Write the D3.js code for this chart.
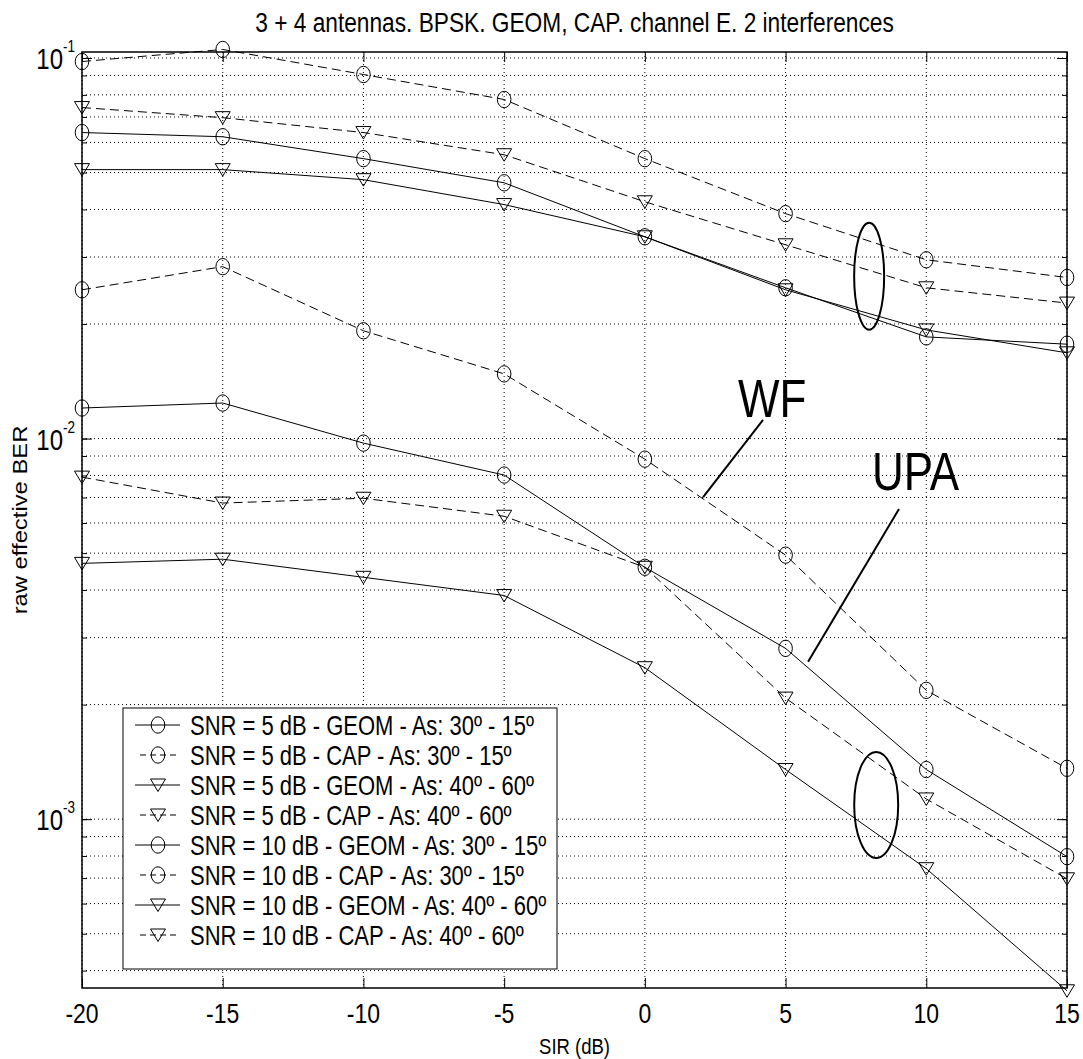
<!DOCTYPE html>
<meta charset="UTF-8">
<head>
<title>raw effective BER vs SIR</title>
<style>

body {
  margin: 0;
  background: #fff;
}

text {
  font-family: "Liberation Sans", Arial, Helvetica, sans-serif;
  fill: #000;
}

.grid line {
  stroke: #000;
  stroke-width: 1;
  stroke-dasharray: 1,3;
}

.curve {
  fill: none;
  stroke: #000;
  stroke-width: 1;
}

.mark {
  fill: none;
  stroke: #000;
  stroke-width: 1;
}

.annot {
  fill: none;
  stroke: #000;
  stroke-width: 2;
}

</style>
</head>
<body>

<!-- load the d3.js library -->
<script src="https://cdn.jsdelivr.net/npm/d3@7/dist/d3.min.js"></script>

<script>

// x values (SIR in dB)
var sir = [-20, -15, -10, -5, 0, 5, 10, 15];

// raw effective BER
var snr5Geom3015  = [0.0637, 0.0621, 0.0544, 0.0470, 0.0339, 0.0249, 0.0185, 0.0177];
var snr5Cap3015   = [0.0979, 0.1053, 0.0905, 0.0778, 0.0544, 0.0390, 0.0295, 0.0265];
var snr5Geom4060  = [0.0509, 0.0509, 0.0479, 0.0412, 0.0339, 0.0246, 0.0193, 0.0168];
var snr5Cap4060   = [0.0741, 0.0697, 0.0637, 0.0557, 0.0419, 0.0323, 0.0249, 0.0227];
var snr10Geom3015 = [0.01203, 0.0124, 0.00973, 0.00802, 0.00459, 0.00281, 0.00135, 0.000797];
var snr10Cap3015  = [0.0246, 0.0283, 0.0192, 0.01479, 0.00883, 0.00494, 0.00218, 0.00136];
var snr10Geom4060 = [0.0047, 0.00482, 0.00432, 0.00387, 0.0025, 0.00135, 0.000741, 0.000354];
var snr10Cap4060  = [0.00792, 0.00677, 0.00697, 0.00625, 0.00459, 0.00208, 0.00113, 0.000697];

var legendLabels = [
  "SNR = 5 dB - GEOM - As: 30º - 15º",
  "SNR = 5 dB - CAP - As: 30º - 15º",
  "SNR = 5 dB - GEOM - As: 40º - 60º",
  "SNR = 5 dB - CAP - As: 40º - 60º",
  "SNR = 10 dB - GEOM - As: 30º - 15º",
  "SNR = 10 dB - CAP - As: 30º - 15º",
  "SNR = 10 dB - GEOM - As: 40º - 60º",
  "SNR = 10 dB - CAP - As: 40º - 60º"
];

var xTicks = [-20, -15, -10, -5, 0, 5, 10, 15];
var yMajor = [1e-3, 1e-2, 1e-1];
var yMajorExp = ["-3", "-2", "-1"];

var series = [
  {values: snr5Geom3015,  dashed: false, marker: "o"},
  {values: snr5Cap3015,   dashed: true,  marker: "o"},
  {values: snr5Geom4060,  dashed: false, marker: "v"},
  {values: snr5Cap4060,   dashed: true,  marker: "v"},
  {values: snr10Geom3015, dashed: false, marker: "o"},
  {values: snr10Cap3015,  dashed: true,  marker: "o"},
  {values: snr10Geom4060, dashed: false, marker: "v"},
  {values: snr10Cap4060,  dashed: true,  marker: "v"}
];

var W = 1083, H = 1059;
var plot = {left: 82, right: 1067, top: 52, bottom: 988};
var stretch = 1.22;   // the source picture is taller than wide

var svg = d3.select("body").append("svg")
    .attr("width", W)
    .attr("height", H);

svg.append("rect").attr("width", W).attr("height", H).attr("fill", "#fff");

var x = d3.scaleLinear().domain([-20, 15]).range([plot.left, plot.right]);
var y = d3.scaleLog().domain([3.6e-4, 0.1037]).range([plot.bottom, plot.top]);

// minor values for the log grid
var yMinor = [];
[1e-4, 1e-3, 1e-2, 1e-1].forEach(function(dec) {
  for (var k = 1; k <= 9; k++) {
    var v = k * dec;
    if (v >= 3.6e-4 && v <= 0.1037) yMinor.push(v);
  }
});

// grid
var grid = svg.append("g").attr("class", "grid");
grid.selectAll("line.gx").data(xTicks).enter().append("line")
    .attr("x1", function(d) { return x(d); })
    .attr("x2", function(d) { return x(d); })
    .attr("y1", plot.top).attr("y2", plot.bottom);
grid.selectAll("line.gy").data(yMinor).enter().append("line")
    .attr("x1", plot.left).attr("x2", plot.right)
    .attr("y1", function(d) { return y(d); })
    .attr("y2", function(d) { return y(d); });

// ticks pointing inward, MATLAB style
function tickAxis(axis, tx, ty) {
  var g = svg.append("g")
      .attr("transform", "translate(" + tx + "," + ty + ")")
      .call(axis);
  g.select(".domain").remove();
  g.selectAll("line").attr("stroke", "#000").attr("stroke-width", 1);
  g.selectAll("text").remove();
  return g;
}
tickAxis(d3.axisBottom(x).tickValues(xTicks).tickSizeInner(-10).tickSizeOuter(0), 0, plot.bottom);
tickAxis(d3.axisTop(x).tickValues(xTicks).tickSizeInner(-10).tickSizeOuter(0), 0, plot.top);
tickAxis(d3.axisLeft(y).tickValues(yMajor).tickSizeInner(-10).tickSizeOuter(0), plot.left, 0);
tickAxis(d3.axisRight(y).tickValues(yMajor).tickSizeInner(-10).tickSizeOuter(0), plot.right, 0);
tickAxis(d3.axisLeft(y).tickValues(yMinor).tickSizeInner(-5).tickSizeOuter(0), plot.left, 0);
tickAxis(d3.axisRight(y).tickValues(yMinor).tickSizeInner(-5).tickSizeOuter(0), plot.right, 0);

// box
svg.append("rect")
    .attr("x", plot.left).attr("y", plot.top)
    .attr("width", plot.right - plot.left)
    .attr("height", plot.bottom - plot.top)
    .attr("fill", "none")
    .attr("stroke", "#000")
    .attr("stroke-width", 1.5);

// tick labels
svg.selectAll("text.xlab").data(xTicks).enter().append("text")
    .attr("class", "xlab")
    .attr("transform", function(d) { return "translate(" + x(d) + "," + (plot.bottom + 35) + ") scale(1," + stretch + ")"; })
    .attr("text-anchor", "middle")
    .style("font-size", "23px")
    .text(function(d) { return d; });

var ylab = svg.selectAll("text.ylab").data(yMajor).enter().append("text")
    .attr("class", "ylab")
    .attr("transform", function(d) { return "translate(" + (plot.left - 7) + "," + y(d) + ") scale(1," + stretch + ")"; })
    .attr("text-anchor", "end")
    .attr("y", 9)
    .style("font-size", "24px");
ylab.append("tspan").text("10");
ylab.append("tspan")
    .attr("dy", -13.9)
    .style("font-size", "13.5px")
    .text(function(d, i) { return yMajorExp[i]; });

// title and axis labels
svg.append("text")
    .attr("transform", "translate(" + ((plot.left + plot.right) / 2) + ",32) scale(1," + stretch + ")")
    .attr("text-anchor", "middle")
    .style("font-size", "22.7px")
    .text("3 + 4 antennas. BPSK. GEOM, CAP. channel E. 2 interferences");

svg.append("text")
    .attr("transform", "translate(" + ((plot.left + plot.right) / 2) + ",1054) scale(1," + stretch + ")")
    .attr("text-anchor", "middle")
    .style("font-size", "18.5px")
    .text("SIR (dB)");

svg.append("text")
    .attr("transform", "translate(27," + ((plot.top + plot.bottom) / 2) + ") scale(1," + stretch + ") rotate(-90)")
    .attr("text-anchor", "middle")
    .style("font-size", "19.5px")
    .text("raw effective BER");

// curves
var line = d3.line()
    .x(function(d) { return x(d[0]); })
    .y(function(d) { return y(d[1]); });

function drawMarker(g, type) {
  if (type === "o") {
    g.append("ellipse").attr("class", "mark").attr("rx", 6.8).attr("ry", 8.2);
  } else {
    g.append("path").attr("class", "mark").attr("d", "M-7.5,-6L7.5,-6L0,6.5Z");
  }
}

series.forEach(function(s) {
  var pts = sir.map(function(v, i) { return [v, s.values[i]]; });
  svg.append("path")
      .datum(pts)
      .attr("class", "curve")
      .attr("stroke-dasharray", s.dashed ? "9,5" : null)
      .attr("d", line);
  pts.forEach(function(p) {
    var m = svg.append("g").attr("transform", "translate(" + x(p[0]) + "," + y(p[1]) + ")");
    drawMarker(m, s.marker);
  });
});

// annotations (data coordinates)
var wfText = [3.31, 0.0114], wfLine = [[4.20, 0.0112], [2.07, 0.00702]];
var upaText = [8.07, 0.00733], upaLine = [[9.03, 0.00653], [5.80, 0.00259]];
var ellipse1 = [7.97, 0.0267], ellipse2 = [8.22, 0.00109];

svg.append("text")
    .attr("transform", "translate(" + x(wfText[0]) + "," + y(wfText[1]) + ") scale(1," + stretch + ")")
    .style("font-size", "44px")
    .text("WF");
svg.append("text")
    .attr("transform", "translate(" + x(upaText[0]) + "," + y(upaText[1]) + ") scale(1," + stretch + ")")
    .style("font-size", "44px")
    .text("UPA");
svg.append("path").datum(wfLine).attr("class", "annot").attr("d", line);
svg.append("path").datum(upaLine).attr("class", "annot").attr("d", line);
svg.append("ellipse").attr("class", "annot")
    .attr("cx", x(ellipse1[0])).attr("cy", y(ellipse1[1]))
    .attr("rx", 15).attr("ry", 53.5);
svg.append("ellipse").attr("class", "annot")
    .attr("cx", x(ellipse2[0])).attr("cy", y(ellipse2[1]))
    .attr("rx", 22).attr("ry", 53);

// legend
var legend = svg.append("g").attr("transform", "translate(123,708)");
legend.append("rect")
    .attr("width", 434).attr("height", 261)
    .attr("fill", "#fff")
    .attr("stroke", "#000")
    .attr("stroke-width", 1);

series.forEach(function(s, i) {
  var row = legend.append("g").attr("transform", "translate(0," + (17 + i * 30) + ")");
  row.append("line")
      .attr("class", "curve")
      .attr("x1", s.dashed ? 17 : 12).attr("x2", s.dashed ? 53 : 57)
      .attr("y1", 0).attr("y2", 0)
      .attr("stroke-dasharray", s.dashed ? "6,4" : null);
  drawMarker(row.append("g").attr("transform", "translate(35,0)"), s.marker);
  row.append("text")
      .attr("transform", "translate(67,9.5) scale(1," + stretch + ")")
      .style("font-size", "22px")
      .text(legendLabels[i]);
});

</script>
</body>
</html>
